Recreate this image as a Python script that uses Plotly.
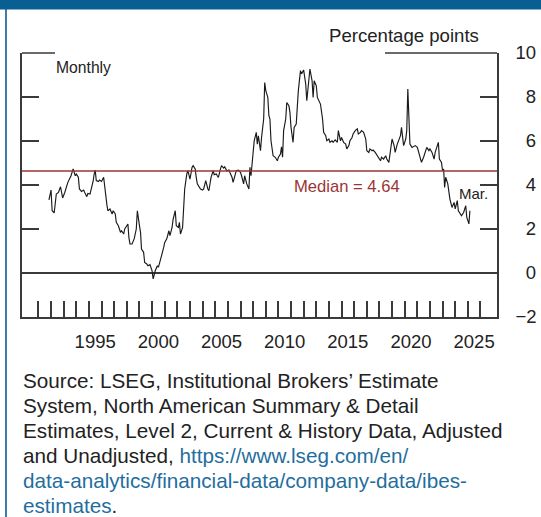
"""Forward earnings-price ratio minus real 10-year yield (monthly)."""

import plotly.graph_objects as go

# Monthly readings (percentage points)
months = [
    "1991-11", "1992-01", "1992-02", "1992-04", "1992-06", "1992-08", "1992-10", "1992-12",
    "1993-02", "1993-04", "1993-05", "1993-08", "1993-10", "1993-12", "1994-01", "1994-03",
    "1994-04", "1994-06", "1994-08", "1994-09", "1994-11", "1994-12", "1995-02", "1995-04",
    "1995-05", "1995-06", "1995-07", "1995-08", "1995-10", "1995-11", "1996-01", "1996-03",
    "1996-04", "1996-05", "1996-06", "1996-07", "1996-09", "1996-11", "1996-12", "1997-02",
    "1997-03", "1997-05", "1997-07", "1997-08", "1997-10", "1997-11", "1998-02", "1998-03",
    "1998-04", "1998-06", "1998-08", "1998-10", "1998-11", "1999-01", "1999-02", "1999-03",
    "1999-05", "1999-06", "1999-08", "1999-09", "1999-11", "2000-01", "2000-02", "2000-04",
    "2000-06", "2000-07", "2000-09", "2000-10", "2000-12", "2001-01", "2001-03", "2001-05",
    "2001-06", "2001-08", "2001-09", "2001-11", "2001-12", "2002-02", "2002-03", "2002-04",
    "2002-06", "2002-07", "2002-08", "2002-10", "2002-11", "2003-01", "2003-03", "2003-04",
    "2003-06", "2003-07", "2003-08", "2003-11", "2004-01", "2004-02", "2004-04", "2004-06",
    "2004-07", "2004-09", "2004-11", "2004-12", "2005-02", "2005-03", "2005-04", "2005-06",
    "2005-07", "2005-09", "2005-10", "2005-12", "2006-02", "2006-03", "2006-05", "2006-06",
    "2006-08", "2006-09", "2006-11", "2007-01", "2007-02", "2007-04", "2007-05", "2007-07",
    "2007-09", "2007-10", "2007-11", "2007-12", "2008-02", "2008-04", "2008-05", "2008-06",
    "2008-08", "2008-09", "2008-11", "2008-12", "2009-01", "2009-03", "2009-04", "2009-05",
    "2009-06", "2009-08", "2009-10", "2009-12", "2010-01", "2010-03", "2010-04", "2010-05",
    "2010-06", "2010-08", "2010-09", "2010-11", "2010-12", "2011-01", "2011-03", "2011-04",
    "2011-06", "2011-07", "2011-08", "2011-10", "2011-11", "2012-01", "2012-03", "2012-04",
    "2012-06", "2012-07", "2012-09", "2012-10", "2012-11", "2013-01", "2013-02", "2013-04",
    "2013-05", "2013-07", "2013-08", "2013-10", "2013-11", "2014-01", "2014-02", "2014-04",
    "2014-05", "2014-07", "2014-09", "2014-10", "2014-12", "2015-01", "2015-03", "2015-05",
    "2015-06", "2015-08", "2015-09", "2015-11", "2015-12", "2016-02", "2016-04", "2016-05",
    "2016-07", "2016-08", "2016-10", "2016-12", "2017-01", "2017-03", "2017-04", "2017-06",
    "2017-07", "2017-09", "2017-11", "2017-12", "2018-02", "2018-03", "2018-05", "2018-07",
    "2018-08", "2018-10", "2018-11", "2019-01", "2019-03", "2019-04", "2019-06", "2019-07",
    "2019-09", "2019-10", "2019-11", "2019-12", "2020-02", "2020-03", "2020-04", "2020-05",
    "2020-06", "2020-08", "2020-09", "2020-11", "2021-01", "2021-02", "2021-04", "2021-05",
    "2021-07", "2021-09", "2021-10", "2021-12", "2022-01", "2022-03", "2022-05", "2022-06",
    "2022-08", "2022-09", "2022-10", "2022-12", "2023-01", "2023-02", "2023-03", "2023-04",
    "2023-06", "2023-07", "2023-08", "2023-10", "2023-12", "2024-01", "2024-03", "2024-04",
    "2024-06", "2024-07", "2024-09", "2024-11", "2024-12", "2025-02", "2025-03",
]
spread = [
    3.32, 3.77, 2.83, 2.73, 3.59, 3.66, 3.92, 3.41,
    3.66, 3.97, 4.12, 4.42, 4.73, 4.42, 4.50, 4.35,
    3.82, 3.71, 3.77, 3.66, 3.47, 3.62, 3.59, 3.97,
    4.16, 4.50, 4.68, 4.20, 4.16, 4.23, 4.16, 4.35,
    3.82, 3.44, 3.13, 2.83, 2.91, 2.68, 2.83, 2.68,
    2.30, 2.15, 1.85, 1.92, 1.77, 2.00, 2.23, 1.62,
    1.32, 1.32, 1.55, 2.00, 2.83, 2.15, 1.85, 1.09,
    0.94, 0.48, 0.41, 0.33, 0.38, 0.10, -0.27, 0.10,
    0.33, 0.26, 0.56, 0.79, 1.16, 1.39, 1.55, 1.92,
    1.70, 2.07, 2.45, 2.83, 2.15, 2.07, 2.30, 1.77,
    2.07, 2.98, 3.82, 4.50, 4.65, 4.27, 4.80, 4.88,
    4.73, 4.35, 4.05, 3.82, 3.77, 3.82, 4.20, 3.82,
    3.74, 4.35, 4.65, 4.47, 4.50, 4.42, 4.35, 4.73,
    4.88, 4.77, 4.83, 4.65, 4.68, 4.57, 4.35, 4.12,
    4.50, 4.65, 4.68, 4.57, 4.42, 4.05, 4.42, 4.05,
    3.82, 4.80, 4.42, 5.10, 6.01, 6.39, 5.86, 6.24,
    5.56, 6.16, 7.00, 8.66, 8.29, 7.98, 7.15, 7.00,
    6.01, 5.33, 5.26, 5.10, 5.26, 5.41, 5.74, 5.26,
    6.47, 7.00, 7.75, 7.60, 7.30, 6.62, 5.94, 6.62,
    6.77, 7.53, 8.29, 9.20, 9.05, 9.23, 8.59, 7.83,
    8.82, 9.27, 8.74, 7.98, 8.74, 8.51, 7.98, 7.75,
    7.68, 7.00, 6.39, 6.24, 6.01, 6.09, 5.94, 6.01,
    5.94, 6.05, 5.94, 6.47, 6.01, 6.16, 5.94, 5.86,
    5.64, 5.79, 6.01, 6.16, 6.32, 6.47, 6.55, 6.32,
    6.39, 6.47, 6.39, 6.09, 5.56, 5.48, 5.64, 5.56,
    5.59, 5.48, 5.33, 5.26, 5.10, 5.26, 5.18, 5.33,
    5.18, 5.03, 5.41, 6.09, 5.79, 5.48, 5.86, 6.01,
    6.24, 6.62, 6.09, 5.79, 6.09, 6.47, 8.36, 6.92,
    5.86, 5.71, 5.74, 5.79, 5.71, 5.56, 5.18, 5.03,
    5.26, 5.56, 5.71, 5.56, 5.64, 5.48, 5.18, 5.48,
    5.79, 5.94, 5.18, 5.03, 4.65, 4.73, 3.89, 4.35,
    4.05, 3.74, 3.36, 2.98, 3.21, 2.91, 3.29, 2.83,
    2.68, 2.60, 2.75, 3.06, 2.53, 2.23, 2.83,
]
MEDIAN = 4.64

year_ticks = [f"{y}-01-01" for y in range(1991, 2027)]
label_years = list(range(1995, 2030, 5))
y_ticks = [-2, 0, 2, 4, 6, 8, 10]
y_text = ["\u22122", "\u20070", "\u20072", "\u20074", "\u20076", "\u20078", "10"]

source_lines = [
    "Source: LSEG, Institutional Brokers’ Estimate",
    "System, North American Summary &amp; Detail",
    "Estimates, Level 2, Current &amp; History Data, Adjusted",
    "and Unadjusted, <span style='color:{link}'>https://www.lseg.com/en/</span>",
    "<span style='color:{link}'>data-analytics/financial-data/company-data/ibes-</span>",
    "<span style='color:{link}'>estimates</span>.",
]

X_RANGE = ["1989-09-13", "2027-04-24"]
Y_RANGE = [-2, 10]

AXIS_COLOR = "#3a3a3a"
TEXT_COLOR = "#222222"
BLUE = "#0a5f92"
RED = "#9b3535"
LINK = "#1f6e9e"
SANS = "Liberation Sans, Arial, sans-serif"

# plot area: 22..497 px across, 53..317 px down
PLOT_TOP, PLOT_H = 53, 264


def py(pixel_y):
    """Figure pixel row -> paper y."""
    return (PLOT_TOP + PLOT_H - pixel_y) / PLOT_H


fig = go.Figure()
fig.add_trace(go.Scatter(
    x=months, y=spread, mode="lines",
    line=dict(color="#1a1a1a", width=1.15),
    hoverinfo="skip", showlegend=False,
))
# empty trace so the overlay axes get drawn
fig.add_trace(go.Scatter(x=[], y=[], xaxis="x2", yaxis="y2", showlegend=False))

fig.update_layout(
    width=541, height=517,
    margin=dict(l=22, r=44, t=PLOT_TOP, b=517 - PLOT_TOP - PLOT_H),
    paper_bgcolor="white", plot_bgcolor="white",
    font=dict(family=SANS, size=18, color=TEXT_COLOR),
    xaxis=dict(
        type="date", range=X_RANGE, automargin=False,
        tickvals=year_ticks, showticklabels=False,
        ticks="inside", ticklen=16, tickwidth=1.5, tickcolor=AXIS_COLOR,
        showline=True, linecolor=AXIS_COLOR, linewidth=1.5,
        showgrid=False, zeroline=False,
    ),
    xaxis2=dict(
        type="date", overlaying="x", matches="x", side="bottom", automargin=False,
        tickvals=[f"{y}-07-01" for y in label_years],
        ticktext=[str(y) for y in label_years],
        ticks="", showline=False, showgrid=False, zeroline=False,
        tickfont=dict(size=18.5, color=TEXT_COLOR),
        ticklabelstandoff=11,
    ),
    yaxis=dict(
        side="right", range=Y_RANGE, automargin=False,
        tickvals=y_ticks, ticktext=y_text,
        ticks="inside", ticklen=17, tickwidth=1.5, tickcolor=AXIS_COLOR,
        showline=True, linecolor=AXIS_COLOR, linewidth=1.5,
        showgrid=False,
        zeroline=True, zerolinecolor=AXIS_COLOR, zerolinewidth=1.5,
        tickfont=dict(size=18.5, color=TEXT_COLOR),
        ticklabelstandoff=13,
    ),
    yaxis2=dict(
        overlaying="y", side="left", range=Y_RANGE, automargin=False,
        tickvals=[2, 4, 6, 8], showticklabels=False,
        ticks="inside", ticklen=17, tickwidth=1.5, tickcolor=AXIS_COLOR,
        showline=True, linecolor=AXIS_COLOR, linewidth=1.5,
        showgrid=False, zeroline=False,
    ),
)

shapes = [
    # top blue band and left rule of the panel
    dict(type="rect", xref="paper", yref="paper", x0=-0.1, x1=1.2, y0=py(9.5), y1=py(-5),
         fillcolor=BLUE, line_width=0, layer="above"),
    dict(type="line", xref="paper", yref="paper", x0=-0.0337, x1=-0.0337, y0=py(530), y1=py(8),
         line=dict(color=BLUE, width=1.6)),
    # partial top frame
    dict(type="line", xref="paper", yref="paper", x0=0, x1=0.0695, y0=1, y1=1,
         line=dict(color=AXIS_COLOR, width=1.5)),
    dict(type="line", xref="paper", yref="paper", x0=0.7642, x1=1, y0=1, y1=1,
         line=dict(color=AXIS_COLOR, width=1.5)),
    # median line
    dict(type="line", xref="paper", yref="y", x0=0, x1=1, y0=MEDIAN, y1=MEDIAN,
         line=dict(color=RED, width=1.5)),
]
fig.update_layout(shapes=shapes)

annotations = [
    dict(text="Percentage points", x=0.964, y=py(35.5), xanchor="right",
         font=dict(size=18.6, color=TEXT_COLOR)),
    dict(text="Monthly", x=0.0695, y=py(68), xanchor="left",
         font=dict(size=15.7, color=TEXT_COLOR)),
    dict(text=f"Median = {MEDIAN}", x=0.570, y=py(186), xanchor="left",
         font=dict(size=16.6, color=RED)),
    dict(text="Mar.", x=0.918, y=py(193), xanchor="left",
         font=dict(size=15, color=TEXT_COLOR)),
]
for i, line in enumerate(source_lines):
    annotations.append(dict(
        text=line.format(link=LINK), x=0, y=py(380.5 + 24.9 * i), xanchor="left",
        font=dict(size=20.7, color=TEXT_COLOR),
    ))
for a in annotations:
    a.update(xref="paper", yref="paper", yanchor="middle", align="left",
             showarrow=False, borderpad=0)
fig.update_layout(annotations=annotations)

fig.write_html(
    "out.html",
    config={"displayModeBar": False},
    post_script="document.body.style.margin = '0';",
)
